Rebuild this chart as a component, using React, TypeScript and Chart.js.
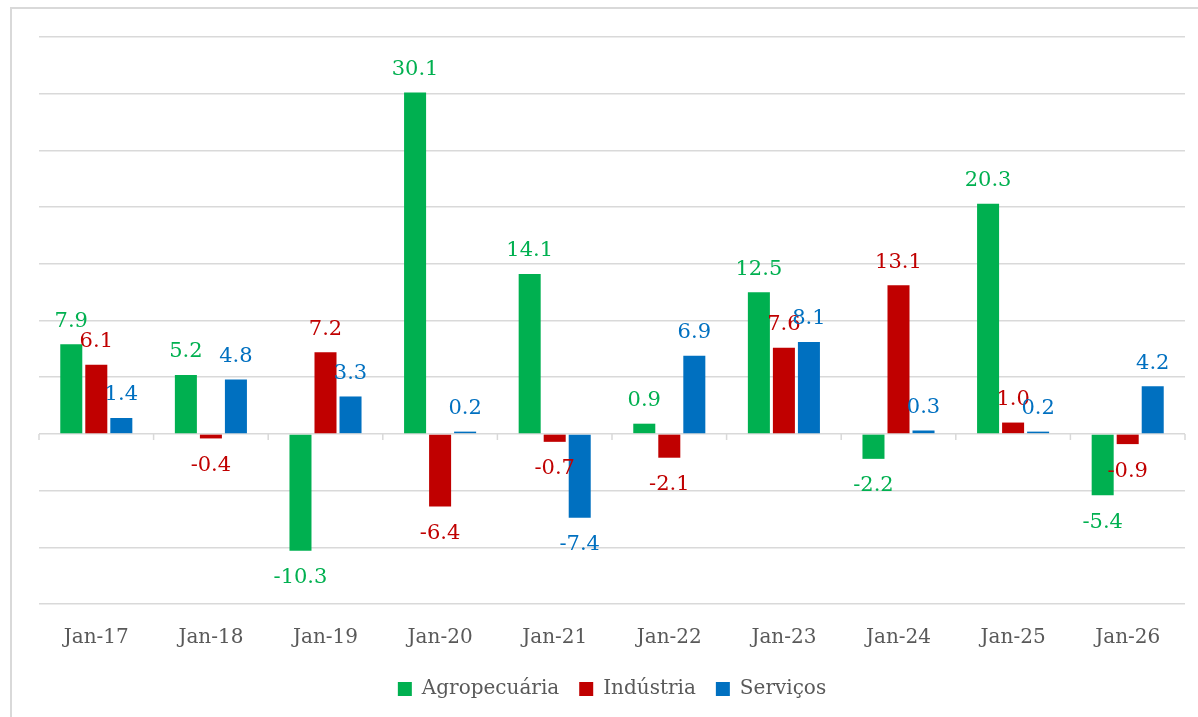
import React, { useEffect, useRef } from "react";
import { Chart, registerables } from "chart.js";

Chart.register(...registerables);

const categories = ["Jan-17", "Jan-18", "Jan-19", "Jan-20", "Jan-21", "Jan-22", "Jan-23", "Jan-24", "Jan-25", "Jan-26"];
const agropecuaria = [7.9, 5.2, -10.3, 30.1, 14.1, 0.9, 12.5, -2.2, 20.3, -5.4];
const industria = [6.1, -0.4, 7.2, -6.4, -0.7, -2.1, 7.6, 13.1, 1.0, -0.9];
const servicos = [1.4, 4.8, 3.3, 0.2, -7.4, 6.9, 8.1, 0.3, 0.2, 4.2];
const seriesNames = ["Agropecuária", "Indústria", "Serviços"];
const seriesColors = ["#00B050", "#C00000", "#0070C0"];

const FONT = "'DejaVu Serif', serif";

const labelPlugin = {
  id: "valueLabels",
  afterDatasetsDraw(chart: any) {
    const ctx = chart.ctx;
    ctx.save();
    ctx.font = `21px ${FONT}`;
    ctx.textAlign = "center";
    chart.data.datasets.forEach((ds: any, di: number) => {
      const meta = chart.getDatasetMeta(di);
      ctx.fillStyle = ds.backgroundColor;
      meta.data.forEach((el: any, i: number) => {
        const v = ds.data[i];
        const txt = v.toFixed(1);
        ctx.textBaseline = "middle";
        if (v >= 0) {
          ctx.fillText(txt, el.x, el.y - 23);
        } else {
          ctx.fillText(txt, el.x, el.y + 27);
        }
      });
    });
    ctx.restore();
  },
};

const zeroAxisPlugin = {
  id: "zeroAxis",
  beforeDatasetsDraw(chart: any) {
    const ctx = chart.ctx;
    const xs = chart.scales.x;
    const ys = chart.scales.y;
    const y0 = ys.getPixelForValue(0);
    ctx.save();
    ctx.strokeStyle = "#d9d9d9";
    ctx.lineWidth = 1.5;
    ctx.beginPath();
    for (let i = 0; i <= categories.length; i++) {
      const x = xs.getPixelForValue(i - 0.5);
      ctx.moveTo(x, y0);
      ctx.lineTo(x, y0 + 6);
    }
    ctx.stroke();
    ctx.restore();
  },
};

export default function App() {
  const ref = useRef<HTMLCanvasElement>(null);
  useEffect(() => {
    const chart = new Chart(ref.current as HTMLCanvasElement, {
      type: "bar",
      data: {
        labels: categories,
        datasets: [agropecuaria, industria, servicos].map((d, i) => ({
          label: seriesNames[i],
          data: d,
          backgroundColor: seriesColors[i],
          borderWidth: 0,
          categoryPercentage: 0.655,
          barPercentage: 0.88,
        })),
      },
      options: {
        responsive: false,
        animation: false,
        layout: { padding: { left: 39, right: 13, top: 37, bottom: 8 } },
        scales: {
          x: {
            grid: { display: false, drawTicks: false },
            border: { display: false },
            ticks: { color: "#595959", font: { family: FONT, size: 20 }, padding: 22, maxRotation: 0 },
            afterFit: (scale: any) => {
              scale.height = 55;
            },
          },
          y: {
            min: -15,
            max: 35,
            ticks: { display: false, stepSize: 5 },
            grid: { color: "#d9d9d9", lineWidth: 1.5, drawTicks: false },
            border: { display: false },
          },
        },
        plugins: {
          legend: {
            position: "bottom",
            labels: {
              color: "#595959",
              font: { family: FONT, size: 20 },
              boxWidth: 14,
              boxHeight: 14,
              padding: 20,
            },
          },
          tooltip: { enabled: false },
        },
      },
      plugins: [labelPlugin, zeroAxisPlugin],
    });
    return () => chart.destroy();
  }, []);

  return (
    <div style={{ position: "fixed", left: 0, top: 0, width: 1198, height: 717, background: "#fff", overflow: "hidden" }}>
      <div
        style={{
          position: "absolute",
          left: 10,
          top: 7,
          width: 1400,
          height: 900,
          borderLeft: "2px solid #d9d9d9",
          borderTop: "2px solid #d9d9d9",
        }}
      />
      <canvas ref={ref} width={1198} height={717} style={{ position: "absolute", left: 0, top: 0 }} />
    </div>
  );
}
